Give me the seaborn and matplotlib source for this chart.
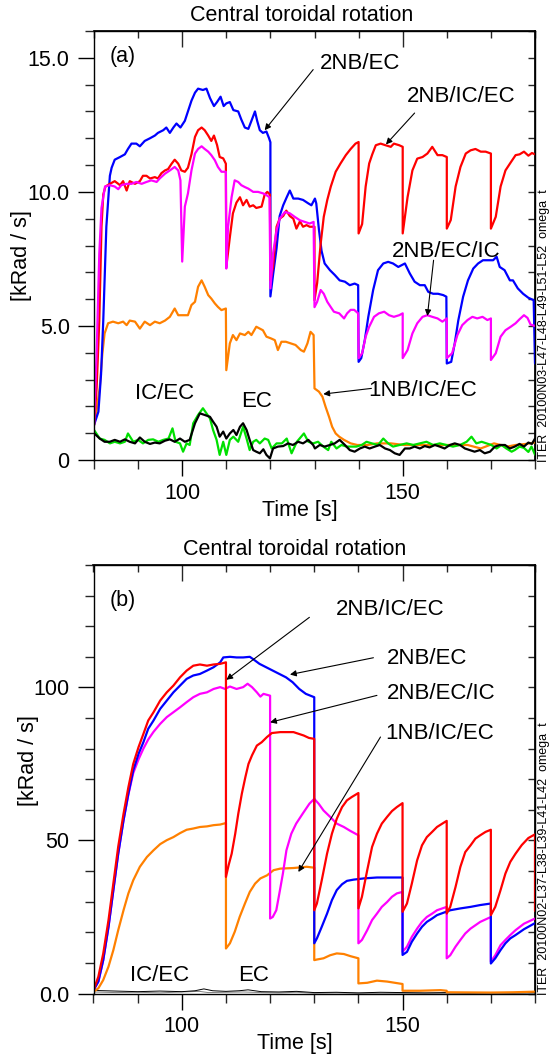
import matplotlib
matplotlib.use("Agg")
import matplotlib.pyplot as plt
from matplotlib.ticker import MultipleLocator, FixedLocator
import pandas as pd
import seaborn as sns

# ---------------- panel (a): ITER 20100N03, central rotation [kRad/s] ----------------
a_blue_t = [80, 81, 81.6, 82.1, 82.8, 83.6, 84.0, 84.7, 85.9, 87, 87.7, 88.5, 89.6, 90.4, 91.5, 92.7, 93.8,
            94.5, 95.7, 96.4, 97.2, 98, 98.7, 99.6, 100.6, 101.3, 102.1, 102.9, 103.6, 104.7, 105.5, 106.3,
            107.2, 107.9, 108.7, 109.4, 110, 110.8, 111.6, 112.7, 113.4, 114.2, 115, 115.7, 116.5, 117,
            117.6, 118.3, 119.1, 119.7, 120, 120, 120.6, 121.4, 122.1, 122.9, 123.7, 124.4, 125.2, 126.3,
            127.4, 128.6, 129.3, 130.1, 130.4, 131, 131.6, 132.3, 133.5, 134.6, 135.7, 136.9, 138, 139.1,
            139.9, 140, 140.6, 141.4, 142.2, 143.3, 144.4, 145.6, 146.7, 147.8, 149, 150.5, 151.6, 152.7,
            153.9, 155, 155.8, 156.9, 158, 159.2, 159.9, 160, 161, 161.8, 162.6, 163.7, 164.8, 166, 167.1,
            168.2, 169.4, 170.5, 171.3, 172, 173.1, 174.3, 175, 176.1, 177.3, 178.5, 179.7, 180]
a_blue_v = [1.3, 1.8, 3.2, 5.2, 8.7, 10.6, 10.9, 11.2, 11.3, 11.4, 11.6, 11.8, 11.8, 11.7, 11.9, 12.0, 12.1,
            12.2, 12.3, 12.4, 12.2, 12.4, 12.55, 12.4, 12.65, 13.0, 13.4, 13.7, 13.85, 13.8, 13.85, 13.5,
            13.2, 13.35, 13.55, 13.2, 13.3, 13.35, 13.05, 13.0, 12.7, 12.4, 12.35, 12.65, 13.0, 12.65,
            12.3, 12.2, 12.25, 12.0, 11.85, 6.1, 6.9, 7.9, 9.1, 9.5, 9.8, 10.05, 9.75, 9.75,
            9.7, 9.57, 9.5, 9.75, 9.57, 8.6, 7.8, 7.33, 7.08, 6.9, 6.7, 6.65, 6.52, 6.58,
            6.52, 3.66, 3.8, 4.47, 5.34, 6.34, 7.08, 7.33, 7.39, 7.33, 7.2, 7.33, 6.96, 6.65,
            6.52, 6.52, 6.27, 6.2, 6.2, 6.15, 6.09, 3.6, 3.66, 4.35, 5.2, 6.09, 6.7, 7.14, 7.33,
            7.45, 7.45, 7.45, 7.58, 7.2, 7.08, 6.7, 6.7, 6.4, 6.2, 6.05, 5.96, 3.6]

a_red_t = [80, 80.6, 81.2, 81.7, 82.1, 82.6, 83.6, 84.7, 85.9, 86.6, 87.4, 88.1, 89.3, 90.4, 91.1, 91.9,
           92.7, 93.8, 94.5, 95.3, 96.1, 96.8, 97.6, 98.3, 99.1, 99.8, 100.6, 101.3, 102.1, 102.9, 103.6,
           104.4, 105.1, 105.9, 106.6, 107.2, 107.9, 108.5, 109.3, 109.9, 110, 110.8, 111.5, 112.3, 113.1,
           113.8, 114.6, 115.3, 116.1, 116.8, 118, 118.7, 119.3, 119.9, 120, 120.6, 121.4, 122.1, 122.9,
           123.6, 124.4, 125.2, 125.9, 126.7, 127.4, 128.2, 128.9, 130, 130, 130.6, 131.4, 132.1, 132.9,
           133.7, 134.8, 135.9, 137.1, 138.2, 139.3, 140, 140, 140.8, 141.6, 142.4, 143.1, 143.9, 145,
           146.1, 147.3, 148, 149.2, 150, 150, 151.1, 152.2, 153.3, 154.5, 155.6, 156.7, 157.9, 159,
           160, 160, 160.9, 162, 163.1, 164.3, 165.4, 166.5, 167.7, 168.8, 170, 170, 171.1, 172.2,
           173.3, 174.5, 175.6, 176.5, 177.5, 178.5, 179.3, 180]
a_red_v = [1.3, 2.7, 5.2, 8.7, 9.9, 10.2, 10.3, 10.4, 10.25, 10.4, 10.05, 10.4, 10.3, 10.4, 10.6, 10.6,
           10.5, 10.55, 10.5, 10.7, 10.8, 10.85, 11.05, 11.2, 11.05, 10.8, 10.75, 10.9, 11.4, 12.05, 12.3,
           12.4, 12.3, 12.1, 11.9, 12.1, 11.75, 11.3, 11.25, 11.05, 7.2, 8.3, 9.2, 9.6, 9.8,
           9.5, 9.7, 9.45, 9.5, 9.4, 9.45, 9.9, 10.0, 9.9, 6.7, 7.2, 8.7, 9.0, 9.1,
           9.3, 9.1, 9.0, 8.63, 8.9, 8.7, 8.76, 8.7, 8.7, 5.96, 6.6, 8.07, 9.07, 9.7,
           10.2, 10.75, 11.06, 11.37, 11.6, 11.8, 11.86, 8.45, 8.8, 10.2, 11.06, 11.4, 11.74, 11.8,
           11.74, 11.68, 11.8, 11.74, 11.68, 8.45, 9.8, 10.8, 11.24, 11.3, 11.43, 11.68, 11.37, 11.37,
           11.3, 8.63, 8.95, 10.2, 10.93, 11.43, 11.55, 11.6, 11.5, 11.5, 11.43, 8.63, 9.07, 10.2,
           10.8, 11.1, 11.37, 11.4, 11.5, 11.35, 11.45, 11.4]

a_mag_t = [80, 80.6, 81.2, 81.7, 82.5, 83.6, 84.7, 85.5, 86.2, 87.4, 88.5, 89.6, 90.8, 91.9, 93, 94.2,
           94.9, 96.1, 97.2, 98.3, 99.1, 99.6, 100, 100.6, 101.3, 102.1, 102.9, 103.6, 104.4, 105.1,
           105.9, 106.6, 107.4, 108.1, 108.9, 109.9, 110, 110.4, 111.2, 111.9, 112.7, 113.4, 114.2, 115,
           116.1, 117.2, 118.4, 119.1, 119.8, 120, 120.6, 121.4, 122.1, 123.3, 124.4, 125.5, 126.7,
           127.8, 128.9, 129.8, 130, 130.6, 131.4, 132.1, 132.9, 133.7, 134.4, 135.6, 136.7, 137.4,
           138.2, 139, 139.9, 140, 140.8, 141.6, 142.4, 143.5, 144.6, 145.8, 146.9, 148, 149.2, 150,
           150, 151.1, 152.2, 153.3, 154.5, 155.6, 156.7, 157.9, 159, 160, 160, 161.2, 162.4, 163.5,
           164.7, 165.8, 166.9, 168.1, 169.2, 170, 170, 171.1, 172.2, 173.3, 174.5, 175.6, 176.5,
           177.5, 178.3, 179, 180]
a_mag_v = [1.3, 4.0, 7.7, 9.4, 10.2, 10.25, 10.2, 10.1, 10.25, 10.3, 10.3, 10.37, 10.3, 10.37, 10.43, 10.37,
           10.5, 10.68, 10.8, 10.93, 10.8, 10.43, 7.4, 9.45, 9.94, 10.8, 11.43, 11.6, 11.7, 11.6,
           11.5, 11.37, 11.18, 10.93, 10.75, 10.75, 7.14, 8.7, 9.8, 10.43, 10.37, 10.25, 10.18, 10.12,
           10.0, 10.0, 9.94, 9.88, 9.8, 6.4, 7.7, 8.57, 9.0, 9.25, 9.2, 9.07, 8.94,
           8.88, 8.82, 8.88, 5.7, 5.9, 6.34, 6.2, 5.9, 5.7, 5.53, 5.47, 5.28, 5.47,
           5.6, 5.6, 5.47, 3.8, 3.98, 4.6, 4.97, 5.34, 5.47, 5.53, 5.4, 5.34, 5.4, 5.47,
           3.8, 4.1, 4.72, 5.1, 5.34, 5.4, 5.34, 5.28, 5.16, 5.28, 3.8, 3.98, 4.66, 5.03,
           5.22, 5.34, 5.28, 5.34, 5.22, 5.28, 3.73, 3.98, 4.6, 4.84, 4.97, 5.1, 5.25,
           5.4, 5.3, 5.05, 5.0]

a_orange_t = [80, 80.6, 81.3, 81.9, 82.4, 83.2, 84.3, 85.5, 86.6, 87.4, 88.1, 89.3, 90.4, 91.5, 92.7, 93.8,
              94.9, 96.1, 97.2, 98.3, 99.1, 100.2, 101.3, 102.1, 102.9, 103.6, 104.4, 105.1, 105.9, 106.6,
              107.4, 108.1, 108.9, 109.9, 110, 110.8, 111.5, 112.3, 113.1, 114.2, 115, 115.7, 116.8, 117.6,
              118.3, 119.1, 120.2, 121, 121.7, 122.5, 123.5, 124.6, 125.7, 126.9, 127.6, 128.4, 129.1,
              129.8, 130, 131, 131.8, 132.5, 133.3, 134, 134.8, 135.6, 136.7, 138.2, 139.7, 142, 144.2,
              147.3, 150.3, 154.1, 157.9, 161.6, 164.7, 167.7, 170.7, 173.7, 175.6, 178, 180]
a_orange_v = [1.3, 1.86, 2.7, 3.97, 4.72, 5.1, 5.16, 5.1, 5.16, 5.03, 5.2, 5.16, 4.9, 5.16, 5.03, 5.16,
              5.1, 5.2, 5.34, 5.65, 5.4, 5.4, 5.4, 5.78, 5.9, 6.46, 6.7, 6.46, 6.15, 6.02,
              5.84, 5.71, 5.59, 5.65, 3.35, 4.35, 4.66, 4.47, 4.72, 4.66, 4.78, 4.66, 4.97, 4.9,
              4.84, 4.6, 4.53, 4.47, 4.1, 4.41, 4.41, 4.35, 4.29, 4.1, 4.04, 4.35, 4.78,
              4.66, 2.67, 2.55, 2.36, 1.99, 1.61, 1.24, 0.99, 0.87, 0.75, 0.62, 0.56, 0.56, 0.62,
              0.62, 0.56, 0.56, 0.56, 0.56, 0.56, 0.43, 0.62, 0.5, 0.56, 0.6, 0.65]

a_green_t = [80, 81.3, 82.4, 83.6, 84.7, 85.9, 87, 87.7, 88.9, 90, 91.1, 92.3, 93.4, 94.6, 95.7, 96.9, 97.8,
             98.5, 99.5, 100.2, 101, 101.7, 102.5, 103.6, 104.7, 105.5, 106.3, 107, 107.8, 108.5, 109.3,
             110, 110.8, 111.6, 112.7, 113.8, 114.6, 115.3, 116.1, 116.8, 117.6, 118.7, 119.5, 120.3,
             121.4, 122.6, 123.7, 124.8, 126, 127.6, 128.6, 129.7, 130.8, 132, 133.1, 133.8, 135, 136.1,
             137.3, 138.4, 139.5, 140.7, 141.8, 143, 144.4, 145.6, 146.7, 147.8, 149.3, 150.9, 152.4,
             153.9, 155.4, 156.9, 158.4, 159.9, 161.4, 163, 164.5, 165.6, 166.7, 167.9, 169, 170.1, 171.3,
             172.4, 173.5, 174.7, 175.4, 176.5, 177.5, 178.5, 179.2, 180]
a_green_v = [1.12, 0.8, 0.75, 0.62, 0.68, 0.62, 0.68, 0.99, 0.68, 0.75, 0.62, 0.75, 0.77, 0.68, 0.75, 0.8, 1.18,
             0.68, 0.62, 0.31, 0.62, 0.56, 1.37, 1.68, 1.93, 1.74, 1.55, 1.12, 0.75, 0.19, 0.68,
             0.19, 0.75, 0.87, 0.68, 1.24, 0.8, 0.37, 0.68, 0.75, 0.62, 0.8, 0.75, 0.43,
             0.62, 0.62, 0.8, 0.25, 0.68, 0.99, 0.68, 0.62, 0.68, 0.5, 0.37, 0.68, 0.43, 0.56,
             0.5, 0.5, 0.5, 0.56, 0.68, 0.62, 0.56, 0.8, 0.62, 0.5, 0.56, 0.62, 0.56,
             0.62, 0.68, 0.56, 0.62, 0.56, 0.5, 0.56, 0.68, 0.87, 0.62, 0.68, 0.62, 0.56, 0.43,
             0.56, 0.43, 0.31, 0.37, 0.5, 0.45, 0.3, 0.5, 0.2]

a_black_t = [80, 81.3, 82.4, 83.6, 84.7, 85.9, 87, 88.1, 89.3, 90.4, 91.5, 92.7, 93.8, 94.9, 96.1, 97.2, 98.3,
             99.5, 100.6, 101.7, 102.9, 104, 105.1, 106.3, 107, 107.8, 108.5, 109.3, 110, 110.8, 111.6,
             112.3, 113.1, 113.8, 114.6, 115.3, 116.1, 116.8, 117.6, 118.4, 119.1, 119.9, 120.6, 121.7,
             122.9, 124, 125.1, 126.3, 127.4, 128.6, 129.7, 130.1, 131.2, 132.3, 133.5, 134.6, 135.7,
             136.9, 138, 139.1, 140.3, 141.4, 142.5, 143.7, 144.8, 146, 147.1, 148.2, 149.3, 150.5, 151.6,
             152.7, 153.9, 155, 156.1, 157.3, 158.4, 159.5, 160.7, 161.8, 163, 164.1, 165.2, 166.3, 167.5,
             168.6, 169.8, 170.9, 172, 173.2, 174.3, 175.4, 176.5, 177.5, 178.5, 179.3, 180]
a_black_v = [1.0, 0.8, 0.68, 0.68, 0.75, 0.68, 0.77, 0.68, 0.62, 0.84, 0.68, 0.6, 0.65, 0.62, 0.72, 0.77, 0.68,
             0.8, 0.68, 0.75, 1.37, 1.74, 1.68, 1.61, 1.43, 1.24, 0.87, 1.06, 0.8, 0.99, 1.12,
             0.93, 1.24, 1.37, 1.12, 0.75, 0.37, 0.31, 0.25, 0.4, 0.19, 0.06, 0.43, 0.5,
             0.52, 0.62, 0.56, 0.68, 0.62, 0.75, 0.56, 0.43, 0.56, 0.5, 0.56, 0.62, 0.75,
             0.56, 0.37, 0.31, 0.43, 0.5, 0.43, 0.5, 0.56, 0.43, 0.37, 0.25, 0.19, 0.43, 0.43,
             0.5, 0.43, 0.52, 0.47, 0.56, 0.5, 0.43, 0.56, 0.62, 0.56, 0.43, 0.37, 0.31, 0.37,
             0.25, 0.31, 0.5, 0.56, 0.56, 0.43, 0.5, 0.6, 0.5, 0.65, 0.6, 0.8]

# ---------------- panel (b): ITER 20100N02 ----------------
b_red_t = [80, 81.1, 82.2, 83.4, 84.5, 85.6, 86.8, 87.9, 89, 90.2, 91.3, 92.4, 93.6, 95.1, 96.6, 98.1, 99.6,
           101.1, 102.6, 104.1, 105.7, 107.2, 108.7, 110, 110, 110.6, 111.3, 112.1, 112.8, 113.6, 114.4,
           115.1, 115.9, 117, 118.1, 119.3, 120.4, 122.3, 125.3, 127.6, 128.8, 130, 130, 130.6, 131.7,
           132.9, 134, 135.1, 136.3, 137.4, 138.5, 140, 140, 140.8, 142, 143.1, 144.2, 145.3, 146.5,
           147.6, 148.7, 150, 150, 151, 152.1, 153.3, 154.4, 155.5, 156.7, 157.8, 159, 160, 160, 160.8,
           162, 163.1, 164.2, 165.4, 166.5, 167.6, 168.8, 170, 170, 171, 172.2, 173.3, 174.4, 175.6,
           177, 178.5, 180, 180]
b_red_v = [1.1, 5.5, 13, 24, 36, 48, 58.7, 67.4, 75, 80.5, 84.8, 89.2, 91.9, 95.7, 98.4, 100.6, 103.3,
           105.5, 107.1, 107.5, 107.1, 107.5, 107.7, 108.2, 38.1, 41.9, 45.7, 52.2, 58.8, 65.3, 70.7,
           75, 77.8, 81, 82.1, 83.8, 85.1, 85.4, 85.4, 84.3, 83.5, 83.2, 27.2, 29.4, 37,
           45.7, 52.2, 57.1, 60.9, 63.1, 64.2, 65.5, 27.8, 31.6, 40.3, 47.9, 52.2, 55.5, 57.7,
           59.6, 60.9, 62.2, 26.7, 29.4, 35.9, 43.5, 48.4, 51.1, 52.8, 54.4, 55.5, 56.4, 26.1, 28.3,
           34.8, 41.4, 46.2, 48.4, 50.6, 51.7, 52.8, 53.5, 25.6, 28.3, 33.8, 39.2, 43, 45.7,
           48.5, 50.8, 52, 27]

b_blue_t = [80, 81.1, 82.2, 83.4, 84.5, 85.6, 86.8, 87.9, 89, 90.2, 91.3, 92.4, 93.6, 95.1, 96.6, 98.1, 99.6,
            101.1, 102.6, 104.1, 105.7, 107.2, 108.7, 109.4, 110.9, 112.4, 113.9, 115.4, 116.1, 117.6,
            119.1, 120.6, 122.1, 123.6, 125.1, 126.6, 128.1, 130, 130, 130.6, 131.7, 132.9, 134, 135.1,
            136.3, 137.4, 138.9, 141.2, 144.2, 147.2, 150, 150, 151, 152.1, 153.3, 154.4, 155.5, 156.7,
            157.8, 159.3, 160.8, 163.1, 165.4, 167.6, 170, 170, 171, 172.2, 173.3, 174.4, 175.6, 177.5, 180]
b_blue_v = [1.1, 3.9, 10.9, 21.8, 33.8, 45.7, 56.6, 65.3, 72.9, 78.3, 82.1, 86.5, 89.2, 93, 95.7, 98.4, 100.6,
            102.8, 103.9, 104.4, 105.5, 106.6, 108.2, 109.8, 110, 109.8, 109.8, 110, 109.3, 107.7,
            106.6, 105.5, 104.4, 103.3, 101.7, 99.5, 97.9, 96.8, 16.4, 18, 21.8, 26.1, 30.5, 33.8,
            35.7, 36.8, 37.2, 37.6, 37.9, 37.9, 37.9, 12.6, 13.6, 16.9, 19.6, 21.8, 23.4, 24.5,
            25.6, 26.4, 27.2, 27.8, 28.3, 28.9, 29.4, 9.8, 11.5, 14.2, 16.4, 18, 19.1, 21, 23]

b_mag_t = [80, 81.1, 82.2, 83.4, 84.5, 85.6, 86.8, 87.9, 89, 90.2, 91.3, 92.4, 93.6, 95.1, 96.6, 98.1, 99.6,
           101.1, 102.6, 104.1, 105.7, 107.2, 108.7, 109.8, 110.9, 112.4, 113.9, 114.9, 115.9, 117, 117.8,
           118.5, 120, 120, 120.6, 121.4, 122.1, 122.9, 123.7, 124.8, 125.9, 127.4, 128.9, 130, 131,
           132.1, 133.6, 135.1, 136.7, 138.2, 140, 140, 140.8, 142, 143.1, 144.2, 145.3, 146.5, 147.6,
           148.7, 150, 150, 151, 152.1, 153.3, 154.4, 155.5, 156.7, 157.8, 159, 160, 160, 160.8, 162,
           163.1, 164.2, 165.4, 166.5, 167.6, 168.8, 170, 170, 171, 172.2, 173.3, 174.4, 175.6, 177.5, 180]
b_mag_v = [1.1, 3.9, 10.9, 21.8, 33.8, 45.7, 56.6, 65, 72, 76.5, 80, 83, 85.5, 88.1, 90.3, 91.9, 93.5,
           95.2, 96.8, 97.9, 98.4, 99.5, 100.1, 99.5, 100.3, 99.5, 100.1, 101.2, 100.1, 98.4, 97,
           97.9, 97.3, 24.5, 25, 27.2, 32.7, 39.2, 46.8, 52.2, 55.5, 58.8, 62, 63.6, 62,
           59.8, 57.7, 55.5, 54.4, 53.1, 51.7, 16.4, 17.5, 20.7, 24, 26.1, 28.3, 29.9, 31.6,
           32.7, 33.2, 13.6, 15.3, 18.5, 21.2, 23.4, 25, 26.1, 27.2, 27.8, 28.3, 11.5, 12.5, 15.3,
           17.5, 19.6, 21.2, 22.3, 23.4, 24.2, 25, 10.4, 12.5, 15.8, 17.5, 19.1, 20.7, 22.8, 24.5]

b_orange_t = [80, 81.1, 82.2, 83.4, 84.5, 85.6, 86.8, 87.9, 89, 90.5, 92.1, 93.6, 95.1, 96.6, 98.1, 99.6,
              101.1, 102.6, 104.1, 105.7, 107.2, 108.7, 110, 110, 110.9, 112, 113.1, 114.3, 115.4, 116.6,
              117.8, 119.3, 120.8, 122.3, 125.3, 128.3, 130, 130, 130.6, 132.1, 133.6, 135.1, 136.7,
              138.2, 140, 140, 142, 144.2, 146.5, 150, 150, 154, 158.6, 160, 160, 170, 175, 180]
b_orange_v = [0.6, 1.7, 4.4, 8.8, 14.2, 20.7, 27.2, 32.7, 37, 41.4, 44.6, 46.8, 48.8, 50.1, 51.1, 52.4,
              53.5, 53.9, 54.4, 54.6, 55, 55.2, 55.7, 14.7, 16.4, 20.2, 25, 29.4, 33.2, 35.9,
              37.6, 38.6, 40.3, 40.8, 41, 41.4, 41.1, 10.9, 11.1, 11.5, 12.5, 13.1, 12.9,
              12.2, 11.5, 3.3, 3.5, 4.2, 3.9, 3.1, 0.9, 0.9, 1.1, 0.9, 0.4, 0.3, 0.4, 0.6]

b_ec_t = [80, 85, 90, 95, 100, 103, 105, 107, 110, 113, 115, 118, 122, 126, 130, 135, 140, 145, 150,
          155, 160, 165, 170, 175, 180]
b_ec_v = [1.0, 0.8, 0.6, 0.8, 0.6, 0.9, 1.5, 0.9, 0.7, 0.9, 1.2, 0.6, 0.5, 0.7, 0.3, 0.4, 0.2, 0.4, 0.3,
          0.2, 0.3, 0.2, 0.3, 0.2, 0.3]
b_icec_t = [80, 85, 90, 95, 100, 104, 106, 110, 114, 118, 122, 126, 130, 135, 140, 150, 160, 170, 180]
b_icec_v = [0.5, 0.3, 0.4, 0.2, 0.5, 0.7, 0.3, 0.4, 0.5, 0.3, 0.2, 0.4, 0.1, 0.2, 0.1, 0.1, 0.1, 0.1, 0.1]

BLUE, RED, MAG, ORANGE, GREEN = "#0000ff", "#ff0000", "#ff00ff", "#ff8000", "#00e000"

sns.set_theme(style="ticks")
plt.rcParams["font.family"] = ["Liberation Sans", "DejaVu Sans"]
plt.rcParams["text.color"] = "black"
plt.rcParams["axes.labelcolor"] = "black"
plt.rcParams["axes.edgecolor"] = "black"

FS = 15.5   # ticks, axis labels, titles
FA = 16     # curve labels


def line(ax, t, v, color, lw=1.6):
    df = pd.DataFrame({"t": t, "v": v})
    sns.lineplot(data=df, x="t", y="v", ax=ax, color=color, lw=lw,
                 sort=False, estimator=None, legend=False)


def style(ax, ymax, yticks, ylabels, yminor):
    ax.set_xlim(80, 180)
    ax.set_ylim(0, ymax)
    ax.xaxis.set_major_locator(FixedLocator([100, 150]))
    ax.xaxis.set_minor_locator(MultipleLocator(10))
    ax.set_yticks(yticks)
    ax.set_yticklabels(ylabels)
    ax.yaxis.set_minor_locator(MultipleLocator(yminor))
    ax.tick_params(which="major", direction="out", length=11.5, width=1, labelsize=FS,
                   top=False, right=False, colors="black")
    ax.tick_params(which="minor", direction="out", length=6.5, width=1, top=False, right=False)
    ax.tick_params(axis="x", which="major", pad=5)
    ax.tick_params(axis="y", which="major", pad=6)
    for s in ax.spines.values():
        s.set_linewidth(1)
        s.set_color("black")
    # inward ticks on top and right
    sx = ax.secondary_xaxis("top")
    sx.xaxis.set_major_locator(FixedLocator([100, 150]))
    sx.xaxis.set_minor_locator(MultipleLocator(10))
    sx.tick_params(which="major", direction="in", length=11.5, width=1, labeltop=False)
    sx.tick_params(which="minor", direction="in", length=5, width=1)
    sy = ax.secondary_yaxis("right")
    sy.set_yticks(yticks)
    sy.yaxis.set_minor_locator(MultipleLocator(yminor))
    sy.tick_params(which="both", direction="in", length=5, width=1, labelright=False)
    ax.set_xlabel("Time [s]", fontsize=FS)
    ax.set_ylabel("[kRad / s]", fontsize=FS)
    ax.xaxis.label.set_va("center")
    ax.yaxis.label.set_va("center")


def arrow(ax, head, tail):
    ax.annotate("", xy=head, xytext=tail,
                arrowprops=dict(arrowstyle="-|>", color="black", lw=0.8, mutation_scale=9,
                                shrinkA=0, shrinkB=0))


fig = plt.figure(figsize=(5.5, 10.57), dpi=100)
ax1 = fig.add_axes([94 / 550, 1 - 460 / 1057, 441 / 550, 429 / 1057])
ax2 = fig.add_axes([93.5 / 550, 1 - 993.5 / 1057, 441.5 / 550, 428.5 / 1057])

# panel (a)
line(ax1, a_orange_t, a_orange_v, ORANGE)
line(ax1, a_blue_t, a_blue_v, BLUE)
line(ax1, a_red_t, a_red_v, RED)
line(ax1, a_mag_t, a_mag_v, MAG)
line(ax1, a_green_t, a_green_v, GREEN)
line(ax1, a_black_t, a_black_v, "black")
style(ax1, 16, [0, 5, 10, 15], ["0", "5.0", "10.0", "15.0"], 1)
ax1.xaxis.set_label_coords(0.467, -0.1166)
ax1.yaxis.set_label_coords(-0.1655, 0.4755)
ax1.text(0.4717, 1.037, "Central toroidal rotation", transform=ax1.transAxes,
         ha="center", va="center", fontsize=FS)
ax1.text(86.6, 15.06, "(a)", ha="center", va="center", fontsize=FS)
ax1.text(140.3, 14.8, "2NB/EC", ha="center", va="center", fontsize=FA)
arrow(ax1, (118.7, 12.3), (129.7, 14.56))
ax1.text(163.3, 13.54, "2NB/IC/EC", ha="center", va="center", fontsize=FA)
arrow(ax1, (146.2, 11.77), (152.7, 12.94))
ax1.text(159.9, 7.76, "2NB/EC/IC", ha="center", va="center", fontsize=FA)
arrow(ax1, (155.6, 5.37), (157.0, 7.45))
ax1.text(154.6, 2.61, "1NB/IC/EC", ha="center", va="center", fontsize=FA)
arrow(ax1, (132.0, 2.46), (142.9, 2.67))
ax1.text(96.1, 2.49, "IC/EC", ha="center", va="center", fontsize=FA)
ax1.text(116.9, 2.17, "EC", ha="center", va="center", fontsize=FA)

# panel (b)
line(ax2, b_icec_t, b_icec_v, "#808080", lw=0.7)
line(ax2, b_ec_t, b_ec_v, "black", lw=0.7)
line(ax2, b_orange_t, b_orange_v, ORANGE)
line(ax2, b_mag_t, b_mag_v, MAG)
line(ax2, b_blue_t, b_blue_v, BLUE)
line(ax2, b_red_t, b_red_v, RED)
style(ax2, 140, [0, 50, 100], ["0.0", "50", "100"], 10)
ax2.xaxis.set_label_coords(0.456, -0.116)
ax2.yaxis.set_label_coords(-0.148, 0.5426)
ax2.text(0.456, 1.037, "Central toroidal rotation", transform=ax2.transAxes,
         ha="center", va="center", fontsize=FS)
ax2.text(86.7, 128.3, "(b)", ha="center", va="center", fontsize=FS)
ax2.text(147.1, 125.6, "2NB/IC/EC", ha="center", va="center", fontsize=FA)
arrow(ax2, (110.1, 102.5), (128.9, 122.9))
ax2.text(155.5, 109.3, "2NB/EC", ha="center", va="center", fontsize=FA)
arrow(ax2, (124.5, 104.2), (143.4, 109.7))
ax2.text(158.8, 97.9, "2NB/EC/IC", ha="center", va="center", fontsize=FA)
arrow(ax2, (120.0, 88.6), (144.2, 97.4))
ax2.text(158.4, 84.9, "1NB/IC/EC", ha="center", va="center", fontsize=FA)
arrow(ax2, (126.4, 39.7), (145.0, 83.8))
ax2.text(94.9, 6.0, "IC/EC", ha="center", va="center", fontsize=FA)
ax2.text(116.2, 6.0, "EC", ha="center", va="center", fontsize=FA)

# run identifiers along the right edge
fig.text(544 / 550, 1 - 462 / 1057, "ITER  20100N03-L47-L48-L49-L51-L52  omega  t",
         rotation=90, ha="center", va="bottom", fontsize=9)
fig.text(544 / 550, 1 - 995 / 1057, "ITER  20100N02-L37-L38-L39-L41-L42  omega  t",
         rotation=90, ha="center", va="bottom", fontsize=9)

fig.savefig("out.png", dpi=100)
